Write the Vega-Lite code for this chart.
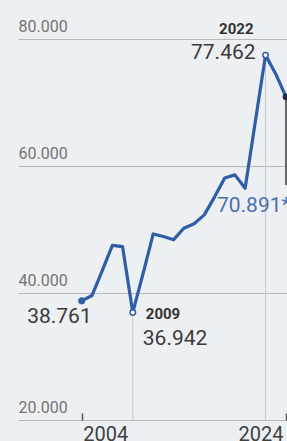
{
  "$schema": "https://vega.github.io/schema/vega-lite/v6.json",
  "width": 269,
  "height": 381,
  "autosize": {"type": "none"},
  "padding": {"left": 18, "top": 39, "right": 0, "bottom": 21},
  "background": "#edf0f2",
  "config": {
    "view": {"stroke": null},
    "font": "Roboto",
    "locale": {"number": {"decimal": ",", "thousands": ".", "grouping": [3], "currency": ["", " €"]}}
  },
  "data": {
    "values": [
      {"year": 2004, "value": 38761, "label": "38.761"},
      {"year": 2005, "value": 39600},
      {"year": 2006, "value": 43500},
      {"year": 2007, "value": 47500},
      {"year": 2008, "value": 47300},
      {"year": 2009, "value": 36942, "label": "36.942"},
      {"year": 2010, "value": 43000},
      {"year": 2011, "value": 49300},
      {"year": 2012, "value": 48900},
      {"year": 2013, "value": 48400},
      {"year": 2014, "value": 50200},
      {"year": 2015, "value": 50900},
      {"year": 2016, "value": 52300},
      {"year": 2017, "value": 55100},
      {"year": 2018, "value": 58100},
      {"year": 2019, "value": 58600},
      {"year": 2020, "value": 56500},
      {"year": 2021, "value": 67000},
      {"year": 2022, "value": 77462, "label": "77.462"},
      {"year": 2023, "value": 74500},
      {"year": 2024, "value": 70891, "label": "70.891*"}
    ]
  },
  "encoding": {
    "x": {
      "field": "year",
      "type": "quantitative",
      "scale": {"domain": [1997.76, 2024.1], "nice": false, "zero": false},
      "axis": {
        "title": null,
        "values": [2004, 2024],
        "format": "d",
        "grid": false,
        "domain": false,
        "ticks": true,
        "tickSize": -7,
        "tickColor": "#555555",
        "tickWidth": 1.5,
        "labelFont": "Roboto",
        "labelFontSize": 20,
        "labelColor": "#404040",
        "labelAlign": {"condition": {"test": "datum.value == 2004", "value": "left"}, "value": "right"},
        "labelOffset": {"condition": {"test": "datum.value == 2004", "value": 1}, "value": -3},
        "labelBaseline": "alphabetic",
        "labelPadding": 27,
        "labelOverlap": false,
        "labelBound": false,
        "labelFlush": false
      }
    },
    "y": {
      "field": "value",
      "type": "quantitative",
      "scale": {"domain": [20000, 80000], "nice": false, "zero": false},
      "axis": {
        "title": null,
        "values": [20000, 40000, 60000, 80000],
        "format": ",d",
        "domain": false,
        "ticks": false,
        "tickSize": 0,
        "labelAlign": "left",
        "labelBaseline": "alphabetic",
        "labelPadding": 0,
        "labelOffset": -8,
        "labelFont": "Roboto",
        "labelFontSize": 16,
        "labelFontWeight": 400,
        "labelColor": "#747474",
        "labelOverlap": false,
        "labelBound": false,
        "gridColor": "#b9b9b9",
        "gridWidth": 1
      }
    }
  },
  "layer": [
    {
      "data": {"values": [{}]},
      "mark": {"type": "rect", "color": "#edf0f2"},
      "encoding": {
        "x": {"datum": 2014.15},
        "x2": {"datum": 2021.95},
        "y": {"datum": 79000},
        "y2": {"datum": 81000}
      }
    },
    {
      "transform": [{"filter": "datum.year == 2009 || datum.year == 2022"}],
      "mark": {"type": "rule", "color": "#c3c8ce", "strokeWidth": 1},
      "encoding": {"y2": {"datum": 20000}}
    },
    {
      "transform": [{"filter": "datum.year == 2024"}],
      "mark": {"type": "rule", "color": "#3a3a3a", "strokeWidth": 1.5},
      "encoding": {"y2": {"datum": 57000}}
    },
    {
      "mark": {"type": "line", "color": "#2f5ea6", "strokeWidth": 3.2, "strokeJoin": "round", "strokeCap": "round"}
    },
    {
      "transform": [{"filter": "datum.year == 2004"}],
      "mark": {"type": "circle", "color": "#2f5ea6", "size": 50, "opacity": 1}
    },
    {
      "transform": [{"filter": "datum.year == 2009 || datum.year == 2022"}],
      "mark": {"type": "point", "filled": true, "fill": "#ffffff", "stroke": "#2f5ea6", "strokeWidth": 1.5, "size": 30, "opacity": 1}
    },
    {
      "transform": [{"filter": "datum.year == 2024"}],
      "mark": {"type": "circle", "color": "#1c2a47", "size": 45, "opacity": 1}
    },
    {
      "transform": [{"filter": "datum.year == 2004"}],
      "mark": {"type": "text", "align": "right", "baseline": "alphabetic", "dx": 10, "dy": 22, "fontSize": 21, "color": "#3a3a3a", "font": "Roboto"},
      "encoding": {"text": {"field": "label"}}
    },
    {
      "transform": [{"filter": "datum.year == 2009"}],
      "mark": {"type": "text", "align": "left", "baseline": "alphabetic", "dx": 13, "dy": 7, "fontSize": 15, "fontWeight": "bold", "color": "#333333", "font": "Roboto"},
      "encoding": {"text": {"field": "year", "type": "quantitative", "format": "d"}}
    },
    {
      "transform": [{"filter": "datum.year == 2009"}],
      "mark": {"type": "text", "align": "left", "baseline": "alphabetic", "dx": 10, "dy": 33, "fontSize": 21, "color": "#3a3a3a", "font": "Roboto"},
      "encoding": {"text": {"field": "label"}}
    },
    {
      "transform": [{"filter": "datum.year == 2022"}],
      "mark": {"type": "text", "align": "right", "baseline": "alphabetic", "dx": -12, "dy": -21, "fontSize": 15, "fontWeight": "bold", "color": "#333333", "font": "Roboto"},
      "encoding": {"text": {"field": "year", "type": "quantitative", "format": "d"}}
    },
    {
      "transform": [{"filter": "datum.year == 2022"}],
      "mark": {"type": "text", "align": "right", "baseline": "alphabetic", "dx": -10, "dy": 4, "fontSize": 21, "color": "#3a3a3a", "font": "Roboto"},
      "encoding": {"text": {"field": "label"}}
    },
    {
      "transform": [{"filter": "datum.year == 2024"}],
      "mark": {"type": "text", "align": "left", "baseline": "alphabetic", "dx": -69, "dy": 115, "fontSize": 21, "color": "#4a70b0", "font": "Roboto"},
      "encoding": {"text": {"field": "label"}}
    }
  ]
}
